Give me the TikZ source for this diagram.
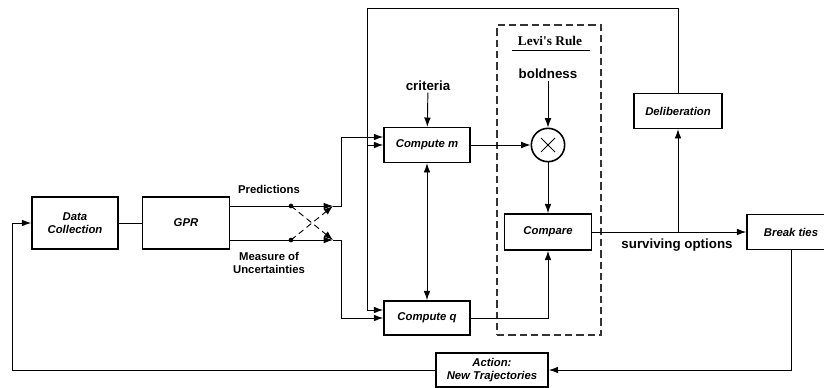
\documentclass[tikz,border=0pt]{standalone}
\usepackage{fontspec}
\setmainfont{Liberation Sans}
\newfontfamily\levifont{Liberation Serif}
\usetikzlibrary{positioning, calc, arrows.meta}

\tikzset{
  block/.style={draw, line width=1.2pt, inner sep=1pt, align=center,
    font=\fontsize{8.5}{10}\selectfont\bfseries\itshape},
  lbl/.style={font=\fontsize{8.5}{10}\selectfont\bfseries, align=center},
  biglbl/.style={font=\fontsize{10}{12}\selectfont\bfseries, inner sep=1pt},
  jdot/.style={circle, fill, inner sep=0pt, minimum size=3.5pt},
}

\begin{document}
\begin{tikzpicture}[x=0.75pt, y=-0.75pt, ->, >={Latex[length=7pt,width=5pt]}, line width=0.7pt]
\useasboundingbox (0,0) rectangle (824,387);

% main blocks
\node[block, minimum width=64.5pt, minimum height=39pt] (dc)    at (75,223)  {Data\\Collection};
\node[block, minimum width=65pt,   minimum height=39pt] (gpr)   at (186,223) {GPR};
\node[block, minimum width=64.5pt, minimum height=26pt] (cm)    at (427,145) {Compute m};
\node[block, minimum width=64.5pt, minimum height=25.5pt] (cq)  at (427,318) {Compute q};
\node[block, minimum width=65pt,   minimum height=27pt] (cmp)   at (548,232) {Compare};
\node[block, minimum width=66pt,   minimum height=26pt] (delib) at (678,111) {Deliberation};
\node[block, minimum width=66pt,   minimum height=26pt] (bt)    at (791,232) {Break ties};
\node[block, minimum width=84pt,   minimum height=25.5pt] (act) at (492,370) {Action:\\New Trajectories};

% Levi's rule frame
\node[draw=black!80, dashed, dash pattern=on 5.5pt off 3pt, line width=0.9pt,
      minimum width=78pt, minimum height=232.5pt, inner sep=0pt] (levibox) at (549,180) {};
\node[font=\levifont\fontsize{10}{12}\selectfont\bfseries] (levi) at (550,41) {Levi's Rule};
\draw[-, line width=0.6pt] (512,50) -- (590,50);
\node[biglbl] (bold) at (548,74) {boldness};
\node[draw, circle, line width=1.2pt, minimum size=25pt, inner sep=0pt] (times) at (548,145) {};
\draw[-, line width=0.6pt] (times.center) ++(-7,-7) -- ++(14,14);
\draw[-, line width=0.6pt] (times.center) ++(-7,7) -- ++(14,-14);

% labels
\node[biglbl] (crit) at (428,86) {criteria};
\node[lbl] (pred) at (269,189) {Predictions};
\node[lbl] (meas) at (269,263) {Measure of\\Uncertainties};
\node[biglbl] (surv) at (677,245) {surviving options};

% junction points
\node[jdot] (p1) at (291,206) {};
\node[jdot] (p2) at (291,240) {};
\coordinate (j1) at (333,206);
\coordinate (j2) at (333,240);
\coordinate (fbtop) at (367,8);
\coordinate (fbleft) at (12,370);

% connectors
\draw[-] (dc) -- (gpr);
\draw (gpr.east |- p1) -- (j1);
\draw (gpr.east |- p2) -- (j2);
\draw[dashed, dash pattern=on 4.5pt off 3pt] (p1.center) -- (j2);
\draw[dashed, dash pattern=on 4.5pt off 3pt] (p2.center) -- (j1);
\draw (j1) -- ++(8,0) |- ($(cm.west)+(0,-8)$);
\draw (j2) -- ++(8,0) |- (cq.west);

\draw (delib.north) |- (fbtop) |- ($(cq.west)+(0,-8)$);
\draw (fbtop |- cm.west) -- (cm.west);

\draw (crit) -- (cm);
\draw[<->] (cm) -- (cq);
\draw (cm) -- (times);
\draw (bold) -- (times);
\draw (times) -- (cmp);
\draw (cq.east) -| (cmp.south);
\draw (cmp.east) -- (bt.west);
\draw (delib.south |- cmp.east) -- (delib.south);
\draw (bt.south) |- (act.east);
\draw (act.west) -- (fbleft) |- (dc.west);
\end{tikzpicture}
\end{document}
